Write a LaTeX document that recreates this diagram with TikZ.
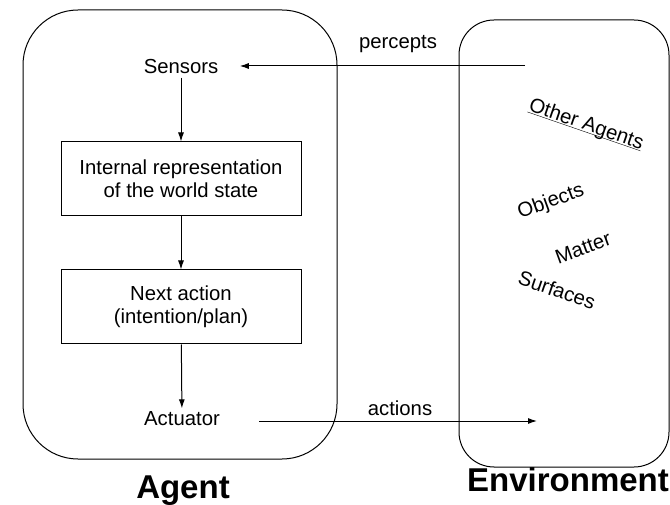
\documentclass[tikz,border=0pt]{standalone}
\usepackage{fontspec}
\setmainfont{Liberation Sans}
\usetikzlibrary{arrows.meta}
\tikzset{
  lbl/.style={font=\fontsize{20.3}{23}\selectfont},
  statebox/.style={lbl,draw,line width=1pt,minimum width=240pt,minimum height=74pt,align=center},
  region/.style={draw,line width=1pt},
  arr/.style={line width=1pt,-{Latex[length=9pt,width=6pt]}},
  title/.style={font=\fontsize{33}{36}\selectfont\bfseries}
}
\begin{document}
\begin{tikzpicture}[x=1pt,y=-1pt]
        \useasboundingbox (0,0) rectangle (670,505);
        \draw[region,rounded corners=55pt] (23,10) rectangle (337,459);
        \draw[region,rounded corners=35pt] (459,20) rectangle (669,467);
        \node[lbl] (sens) at (181,67) {Sensors};
        \node[statebox] (world) at (181,179) {Internal representation\\of the world state};
        \node[statebox] (next) at (181,307) {Next action\\(intention/plan)};
        \node[lbl] (act) at (182,419) {Actuator};
        \draw[arr] (sens) -- (world);
        \draw[arr] (world) -- (next);
        \draw[arr] (next) -- (act);
        \coordinate (penv) at (525,66);
        \coordinate (aenv) at (537,421);
        \draw[arr,shorten >=18pt] (penv) -- (sens.east |- penv);
        \draw[arr,shorten <=36pt] (act.east |- aenv) -- (aenv);
        \node[lbl] (pl) at (398,44) {percepts};
        \node[lbl] (al) at (400,408) {actions};
        \node[lbl,rotate=-19] (oth) at (584,131) {\underline{\smash{Other Agents}}};
        \node[lbl,rotate=20] (obj) at (551,202) {Objects};
        \node[lbl,rotate=20] (mat) at (583,248) {Matter};
        \node[lbl,rotate=-19] (surf) at (557,290) {Surfaces};
        \node[title] (agent) at (183,491) {Agent};
        \node[title] (envt) at (568,480) {Environment};
    \end{tikzpicture}
\end{document}
